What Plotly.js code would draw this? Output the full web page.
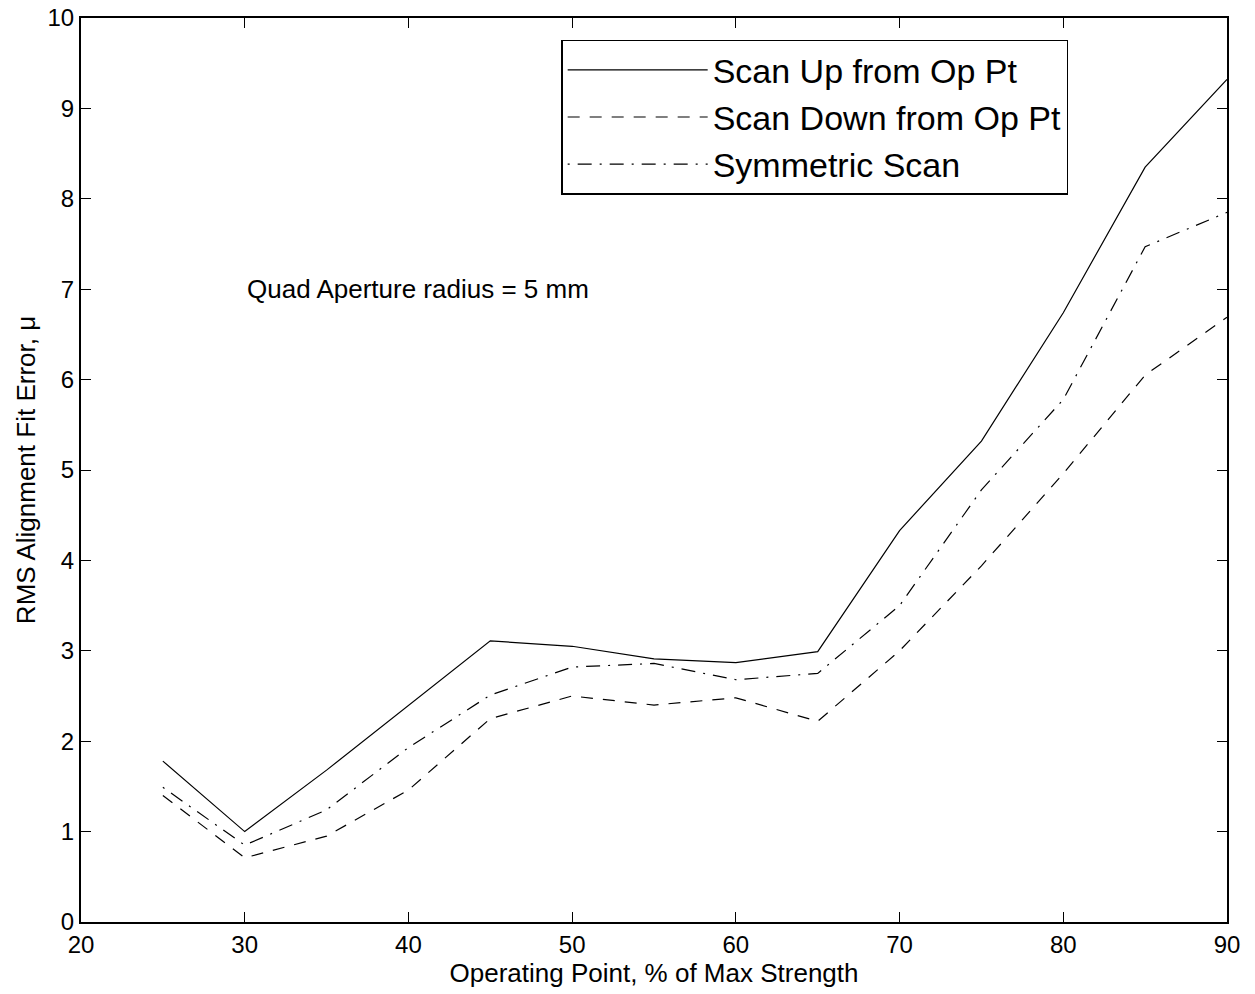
<!DOCTYPE html>
<html>
<head>
<meta charset="utf-8">
<script src="https://cdn.plot.ly/plotly-3.0.1.min.js"></script>
<style>html,body{margin:0;padding:0;background:#fff;}#chart{width:1255px;height:994px;}</style>
</head>
<body>
<div id="chart"></div>
<script>
const operatingPoint = [25, 30, 35, 40, 45, 50, 55, 60, 65, 70, 75, 80, 85, 90];
const scanUp = [1.78, 1.00, 1.68, 2.40, 3.11, 3.05, 2.91, 2.87, 2.99, 4.33, 5.32, 6.74, 8.35, 9.32];
const scanDown = [1.40, 0.71, 0.95, 1.46, 2.25, 2.50, 2.40, 2.48, 2.22, 3.00, 3.94, 4.96, 6.05, 6.69];
const symmetric = [1.49, 0.85, 1.24, 1.93, 2.51, 2.82, 2.86, 2.68, 2.75, 3.50, 4.78, 5.78, 7.47, 7.85];
const seriesNames = ["Scan Up from Op Pt", "Scan Down from Op Pt", "Symmetric Scan"];
const xTicks = [20, 30, 40, 50, 60, 70, 80, 90];
const yTicks = [0, 1, 2, 3, 4, 5, 6, 7, 8, 9, 10];

const font = "Arial, 'Liberation Sans', sans-serif";
const traces = [
  {x: operatingPoint, y: scanUp, name: seriesNames[0], mode: "lines",
   line: {color: "#000", width: 1.2}},
  {x: operatingPoint, y: scanDown, name: seriesNames[1], mode: "lines",
   line: {color: "#000", width: 1.2, dash: "12px,10px"}},
  {x: operatingPoint, y: symmetric, name: seriesNames[2], mode: "lines",
   line: {color: "#000", width: 1.2, dash: "2px,8px,14px,8px"}}
];

const layout = {
  width: 1255, height: 994,
  margin: {l: 81, r: 28, t: 18, b: 72},
  paper_bgcolor: "#fff", plot_bgcolor: "#fff",
  font: {family: font, color: "#000", size: 24},
  showlegend: true,
  legend: {
    x: 0.419, y: 0.976, xanchor: "left", yanchor: "top",
    bgcolor: "#fff", bordercolor: "#000", borderwidth: 1.5,
    font: {family: font, size: 34, color: "#000"},
    itemwidth: 140, tracegroupgap: 0
  },
  xaxis: {
    range: [20, 90], tickvals: xTicks, ticktext: xTicks.map(String),
    ticks: "inside", ticklen: 10, tickwidth: 1, tickcolor: "#000",
    showline: true, linecolor: "#000", linewidth: 2, mirror: "ticks",
    showgrid: false, zeroline: false, automargin: false,
    tickfont: {family: font, size: 24},
    title: {text: "Operating Point, % of Max Strength", font: {family: font, size: 26}, standoff: 0}
  },
  yaxis: {
    range: [0, 10], tickvals: yTicks, ticktext: yTicks.map(String),
    ticks: "inside", ticklen: 10, tickwidth: 1, tickcolor: "#000",
    showline: true, linecolor: "#000", linewidth: 2, mirror: "ticks",
    showgrid: false, zeroline: false, automargin: false,
    tickfont: {family: font, size: 24},
    title: {text: "RMS Alignment Fit Error, μ", font: {family: font, size: 26}, standoff: 4}
  },
  annotations: [{
    x: 30, y: 7, xref: "x", yref: "y", xanchor: "left", yanchor: "middle",
    text: "Quad Aperture radius = 5 mm", showarrow: false,
    font: {family: font, size: 26, color: "#000"}
  }]
};

Plotly.newPlot("chart", traces, layout, {displayModeBar: false, staticPlot: true});
</script>
</body>
</html>
